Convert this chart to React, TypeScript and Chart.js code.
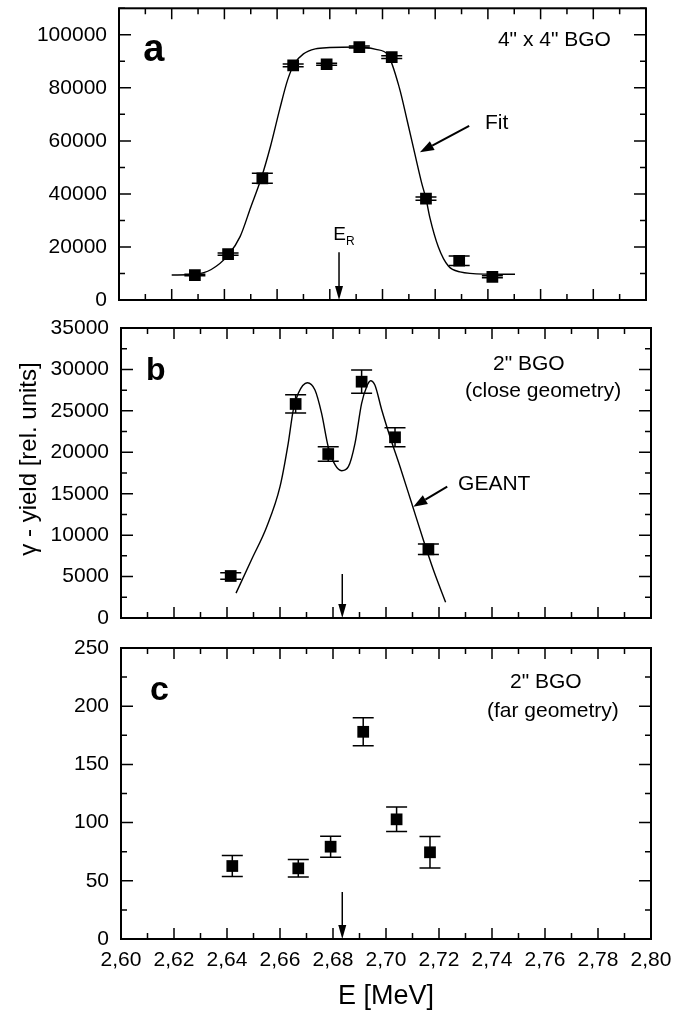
import React, { useEffect, useRef } from "react";
import { Chart, registerables } from "chart.js";
Chart.register(...registerables);

const FONT = '"Liberation Sans", Arial, Helvetica, sans-serif';
const W = 673;

// shared energy axis
const E_MIN = 2.6;
const E_MAX = 2.8;
const E_STEP = 0.01;
const E_RES = 2.6835;

// ---------- panel a : 4" x 4" BGO ----------
const energyA = [2.6288, 2.6414, 2.6544, 2.6661, 2.6788, 2.6912, 2.7035, 2.7165, 2.7291, 2.7417];
const yieldA = [9400, 17300, 45900, 88500, 88900, 95400, 91600, 38200, 14800, 8750];
const errA = [300, 400, 1900, 500, 400, 400, 500, 600, 1750, 400];
const fitE = [2.62, 2.6288, 2.635, 2.6415, 2.646, 2.65, 2.654, 2.6575, 2.661, 2.664, 2.6665, 2.67, 2.6745, 2.68, 2.691, 2.6975, 2.702, 2.7064, 2.7094, 2.7123, 2.7149, 2.7165, 2.718, 2.7212, 2.725, 2.7294, 2.7395, 2.7503];
const fitY = [9400, 9700, 11500, 17000, 24000, 35000, 46000, 58000, 72000, 83000, 89000, 92800, 94700, 95200, 95400, 94500, 92500, 80000, 67500, 55000, 44000, 38200, 31000, 20000, 12800, 10600, 9760, 9700];

// ---------- panel b : 2" BGO close geometry ----------
const energyB = [2.6414, 2.6659, 2.6782, 2.6908, 2.7034, 2.716];
const yieldB = [5070, 25830, 19790, 28520, 21810, 8290];
const errB = [400, 1100, 870, 1410, 1150, 640];
const geantE = [2.6434, 2.6492, 2.655, 2.66, 2.6631, 2.665, 2.6669, 2.6703, 2.6732, 2.6757, 2.6782, 2.6808, 2.6833, 2.6858, 2.6883, 2.6908, 2.6927, 2.6942, 2.6958, 2.6984, 2.7015, 2.7053, 2.7097, 2.7141, 2.7179, 2.7225];
const geantY = [3000, 7000, 11020, 15850, 21080, 25100, 27120, 28400, 27520, 24700, 20670, 18470, 17780, 18260, 21080, 25910, 27920, 28640, 28120, 25100, 21880, 18260, 13840, 9410, 5790, 1900];

// ---------- panel c : 2" BGO far geometry ----------
const energyC = [2.642, 2.6669, 2.6791, 2.6914, 2.704, 2.7166];
const yieldC = [62.7, 60.7, 79.3, 178, 102.8, 74.5];
const errC = [9, 7.5, 9, 12, 10.5, 13.5];

type Note = { text: string; x: number; y: number; size?: number; bold?: boolean };
type Panel = {
  top: number;
  height: number;
  pad: { left: number; right: number; top: number; bottom: number };
  yWidth: number;
  xHeight: number;
  yMax: number;
  yStep: number;
  yLabelStep: number;
  energy: number[];
  yields: number[];
  errors: number[];
  curveE: number[] | null;
  curveY: number[] | null;
  showX: boolean;
  notes: Note[];
  arrow: { x1: number; y1: number; x2: number; y2: number } | null;
  eResTop: number;
  eResLabel: boolean;
  yTitle: boolean;
};

const panels: Panel[] = [
  {
    top: 0, height: 320,
    pad: { left: 0, right: 27, top: 7, bottom: 20 },
    yWidth: 119, xHeight: 0,
    yMax: 110000, yStep: 10000, yLabelStep: 20000,
    energy: energyA, yields: yieldA, errors: errA,
    curveE: fitE, curveY: fitY, showX: false,
    notes: [
      { text: "a", x: 2.6092, y: 90100, size: 38, bold: true },
      { text: '4" x 4" BGO', x: 2.7438, y: 95730 },
      { text: "Fit", x: 2.7389, y: 64460 },
    ],
    arrow: { x1: 2.7329, y1: 65700, x2: 2.7142, y2: 55680 },
    eResTop: 18000, eResLabel: true, yTitle: false,
  },
  {
    top: 310, height: 320,
    pad: { left: 0, right: 22, top: 18, bottom: 12 },
    yWidth: 121, xHeight: 0,
    yMax: 35000, yStep: 2500, yLabelStep: 5000,
    energy: energyB, yields: yieldB, errors: errB,
    curveE: geantE, curveY: geantY, showX: false,
    notes: [
      { text: "b", x: 2.6094, y: 28730, size: 32, bold: true },
      { text: '2" BGO', x: 2.7404, y: 29930 },
      { text: "(close geometry)", x: 2.7298, y: 26710 },
      { text: "GEANT", x: 2.7272, y: 15450 },
    ],
    arrow: { x1: 2.7231, y1: 15850, x2: 2.7103, y2: 13430 },
    eResTop: 5310, eResLabel: false, yTitle: true,
  },
  {
    top: 630, height: 389,
    pad: { left: 0, right: 22, top: 18, bottom: 0 },
    yWidth: 121, xHeight: 80,
    yMax: 250, yStep: 25, yLabelStep: 50,
    energy: energyC, yields: yieldC, errors: errC,
    curveE: null, curveY: null, showX: true,
    notes: [
      { text: "c", x: 2.6109, y: 205.3, size: 34, bold: true },
      { text: '2" BGO', x: 2.7468, y: 215.4 },
      { text: "(far geometry)", x: 2.7381, y: 191 },
    ],
    arrow: null,
    eResTop: 40.4, eResLabel: false, yTitle: false,
  },
];

function drawArrow(ctx: CanvasRenderingContext2D, x1: number, y1: number, x2: number, y2: number, head = 13, half = 4.5, lw = 1.6) {
  const ang = Math.atan2(y2 - y1, x2 - x1);
  const bx = x2 - head * Math.cos(ang);
  const by = y2 - head * Math.sin(ang);
  ctx.lineWidth = lw;
  ctx.beginPath();
  ctx.moveTo(x1, y1);
  ctx.lineTo(bx, by);
  ctx.stroke();
  ctx.beginPath();
  ctx.moveTo(x2, y2);
  ctx.lineTo(bx + half * Math.sin(ang), by - half * Math.cos(ang));
  ctx.lineTo(bx - half * Math.sin(ang), by + half * Math.cos(ang));
  ctx.closePath();
  ctx.fill();
}

const errorBarPlugin = {
  id: "errorBars",
  afterDatasetsDraw(chart: any) {
    const { ctx, scales } = chart;
    const x = scales.x, y = scales.y;
    ctx.save();
    ctx.strokeStyle = "#000";
    ctx.lineWidth = 1.5;
    chart.data.datasets.forEach((ds: any) => {
      if (!ds.errorBars) return;
      ds.data.forEach((pt: any, i: number) => {
        const e = ds.errorBars[i];
        const px = x.getPixelForValue(pt.x);
        const t = y.getPixelForValue(pt.y + e);
        const b = y.getPixelForValue(pt.y - e);
        const cw = 10.5;
        ctx.beginPath();
        ctx.moveTo(px, t);
        ctx.lineTo(px, b);
        ctx.moveTo(px - cw, t);
        ctx.lineTo(px + cw, t);
        ctx.moveTo(px - cw, b);
        ctx.lineTo(px + cw, b);
        ctx.stroke();
      });
    });
    ctx.restore();
  },
};

function framePlugin(p: Panel) {
  return {
    id: "frameTicks",
    afterDraw(chart: any) {
      const { ctx, chartArea: a, scales } = chart;
      const x = scales.x, y = scales.y;
      ctx.save();
      ctx.strokeStyle = "#000";
      ctx.lineWidth = 1.5;
      const nx = Math.round((E_MAX - E_MIN) / E_STEP);
      for (let i = 0; i <= nx; i++) {
        const px = x.getPixelForValue(E_MIN + i * E_STEP);
        const L = i % 2 === 0 ? 11 : 6;
        ctx.beginPath();
        ctx.moveTo(px, a.bottom);
        ctx.lineTo(px, a.bottom - L);
        ctx.moveTo(px, a.top);
        ctx.lineTo(px, a.top + L);
        ctx.stroke();
      }
      const ny = Math.round(p.yMax / p.yStep);
      const every = Math.round(p.yLabelStep / p.yStep);
      for (let i = 0; i <= ny; i++) {
        const py = y.getPixelForValue(i * p.yStep);
        const L = i % every === 0 ? 12 : 6;
        ctx.beginPath();
        ctx.moveTo(a.left, py);
        ctx.lineTo(a.left + L, py);
        ctx.moveTo(a.right, py);
        ctx.lineTo(a.right - L, py);
        ctx.stroke();
      }
      ctx.lineWidth = 2;
      ctx.strokeRect(a.left, a.top, a.right - a.left, a.bottom - a.top);
      ctx.restore();
    },
  };
}

function notesPlugin(p: Panel) {
  return {
    id: "notes",
    afterDraw(chart: any) {
      const { ctx, chartArea: a, scales } = chart;
      const x = scales.x, y = scales.y;
      ctx.save();
      ctx.fillStyle = "#000";
      ctx.strokeStyle = "#000";
      ctx.textBaseline = "alphabetic";
      ctx.textAlign = "left";
      p.notes.forEach((n) => {
        ctx.font = `${n.bold ? "bold " : ""}${n.size || 21}px ${FONT}`;
        ctx.fillText(n.text, x.getPixelForValue(n.x), y.getPixelForValue(n.y));
      });
      if (p.arrow) {
        drawArrow(ctx, x.getPixelForValue(p.arrow.x1), y.getPixelForValue(p.arrow.y1), x.getPixelForValue(p.arrow.x2), y.getPixelForValue(p.arrow.y2), 14, 5, 2);
      }
      const ex = x.getPixelForValue(E_RES);
      drawArrow(ctx, ex, y.getPixelForValue(p.eResTop), ex, a.bottom, 14, 4, 1.5);
      if (p.eResLabel) {
        const base = y.getPixelForValue(p.eResTop) - 12;
        ctx.font = `19px ${FONT}`;
        ctx.textAlign = "right";
        ctx.fillText("E", ex + 7, base);
        ctx.font = `12px ${FONT}`;
        ctx.textAlign = "left";
        ctx.fillText("R", ex + 7, base + 5);
      }
      if (p.yTitle) {
        ctx.save();
        ctx.translate(35.5, 459 - p.top);
        ctx.rotate(-Math.PI / 2);
        ctx.textAlign = "center";
        ctx.textBaseline = "alphabetic";
        ctx.font = `24px ${FONT}`;
        ctx.fillText("\u03b3 - yield [rel. units]", 0, 0);
        ctx.restore();
      }
      ctx.restore();
    },
  };
}

function zeroPad(s: any) {
  s.paddingLeft = 0;
  s.paddingRight = 0;
  s.paddingTop = 0;
  s.paddingBottom = 0;
}

function xLabel(v: any) {
  const k = Math.round(Number(v) * 100);
  return k % 2 === 0 ? (k / 100).toFixed(2).replace(".", ",") : "";
}

function makeConfig(p: Panel): any {
  const datasets: any[] = [
    {
      data: p.energy.map((e, i) => ({ x: e, y: p.yields[i] })),
      pointStyle: "rect",
      pointRadius: 8.3,
      pointHoverRadius: 8.3,
      backgroundColor: "#000",
      borderColor: "#000",
      borderWidth: 0,
      showLine: false,
      errorBars: p.errors,
    },
  ];
  if (p.curveE && p.curveY) {
    const cy = p.curveY;
    datasets.push({
      data: p.curveE.map((e, i) => ({ x: e, y: cy[i] })),
      showLine: true,
      pointRadius: 0,
      borderColor: "#000",
      borderWidth: 1.4,
      cubicInterpolationMode: "monotone",
      fill: false,
    });
  }
  return {
    type: "scatter",
    data: { datasets },
    options: {
      responsive: false,
      animation: false,
      devicePixelRatio: 1,
      events: [],
      layout: { padding: p.pad },
      plugins: { legend: { display: false }, tooltip: { enabled: false } },
      scales: {
        x: {
          type: "linear",
          min: E_MIN,
          max: E_MAX,
          grid: { display: false, drawTicks: false },
          border: { display: false },
          ticks: {
            display: p.showX,
            stepSize: E_STEP,
            autoSkip: false,
            maxRotation: 0,
            minRotation: 0,
            padding: 9,
            color: "#000",
            font: { family: FONT, size: 21 },
            callback: xLabel,
          },
          title: {
            display: p.showX,
            text: "E [MeV]",
            color: "#000",
            font: { family: FONT, size: 27 },
            padding: { top: 0, bottom: 6 },
          },
          afterFit: (s: any) => {
            s.height = p.xHeight;
            zeroPad(s);
          },
        },
        y: {
          type: "linear",
          min: 0,
          max: p.yMax,
          grid: { display: false, drawTicks: false },
          border: { display: false },
          ticks: {
            stepSize: p.yStep,
            autoSkip: false,
            padding: 12,
            color: "#000",
            font: { family: FONT, size: 21 },
            callback: (v: any) => (Math.round(Number(v)) % p.yLabelStep === 0 ? String(Math.round(Number(v))) : ""),
          },
          afterFit: (s: any) => {
            s.width = p.yWidth;
            zeroPad(s);
          },
        },
      },
    },
    plugins: [errorBarPlugin, framePlugin(p), notesPlugin(p)],
  };
}

export default function App() {
  const r0 = useRef<HTMLCanvasElement>(null);
  const r1 = useRef<HTMLCanvasElement>(null);
  const r2 = useRef<HTMLCanvasElement>(null);
  const refs = [r0, r1, r2];
  useEffect(() => {
    const charts = panels.map((p, i) => new Chart(refs[i].current as HTMLCanvasElement, makeConfig(p)));
    return () => charts.forEach((c) => c.destroy());
  }, []);
  return (
    <div style={{ position: "absolute", left: 0, top: 0, width: W, height: 1019, background: "#fff", overflow: "hidden" }}>
      {panels.map((p, i) => (
        <canvas
          key={i}
          ref={refs[i]}
          width={W}
          height={p.height}
          style={{ position: "absolute", left: 0, top: p.top, width: W, height: p.height, display: "block" }}
        />
      ))}
    </div>
  );
}
